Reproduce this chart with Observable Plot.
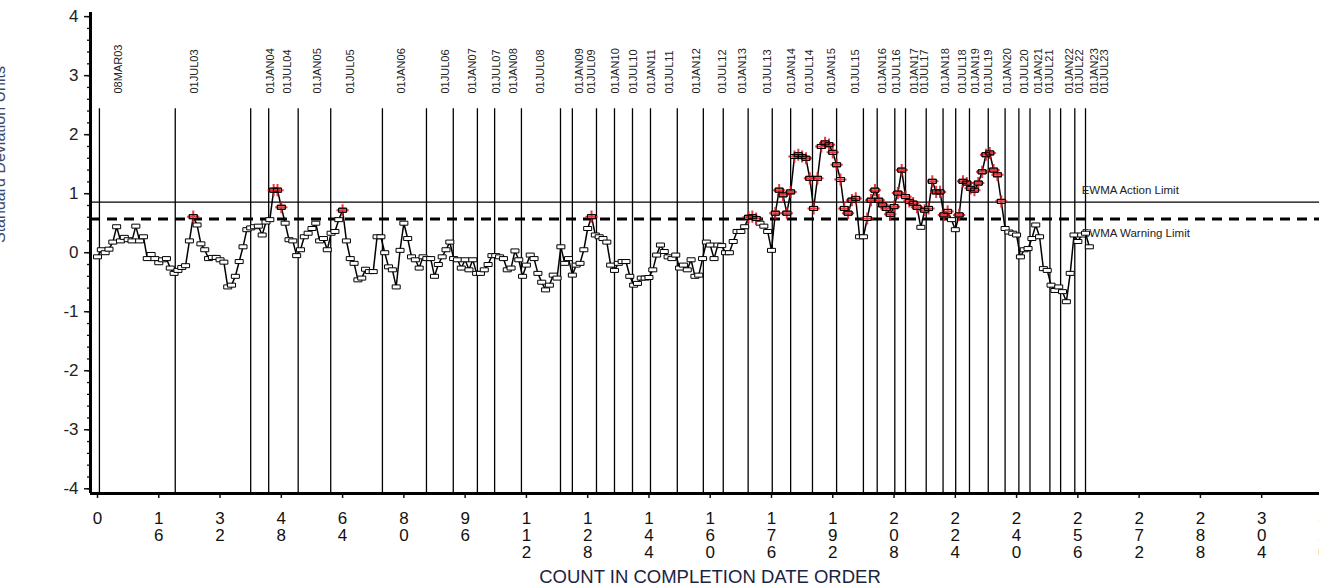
<!DOCTYPE html>
<html>
<head>
<meta charset="utf-8">
<script src="https://cdn.jsdelivr.net/npm/d3@7"></script>
<script src="https://cdn.jsdelivr.net/npm/@observablehq/plot@0.6"></script>
<style>
  html, body { margin: 0; padding: 0; background: #fff; overflow: hidden; }
  #chart svg { display: block; }
</style>
</head>
<body>
<div id="chart"></div>
<script>
// EWMA of the standardized results, one value per completed item (count order)
const ewma = [
  -0.07, 0.05, 0.0, 0.06, 0.18, 0.44, 0.2, 0.26, 0.22, 0.2,
  0.45, 0.2, 0.27, -0.1, -0.03, -0.1, -0.17, -0.12, -0.1, -0.26,
  -0.35, -0.3, -0.25, -0.22, 0.2, 0.61, 0.47, 0.15, 0.05, -0.1,
  -0.08, -0.08, -0.12, -0.16, -0.58, -0.55, -0.4, -0.15, 0.1, 0.39,
  0.42, 0.44, 0.45, 0.3, 0.52, 0.56, 1.06, 1.06, 0.77, 0.5,
  0.22, 0.2, -0.05, 0.05, 0.27, 0.33, 0.41, 0.5, 0.2, 0.24,
  0.05, 0.33, 0.36, 0.56, 0.72, 0.2, -0.1, -0.18, -0.46, -0.43,
  -0.28, -0.32, -0.32, 0.27, 0.27, 0.0, -0.24, -0.29, -0.58, 0.04,
  0.5, 0.24, -0.07, -0.12, -0.26, -0.07, -0.1, -0.1, -0.4, -0.2,
  -0.07, 0.05, 0.18, -0.1, -0.12, -0.26, -0.12, -0.29, -0.12, -0.35,
  -0.35, -0.29, -0.2, -0.05, -0.05, -0.07, -0.1, -0.29, -0.26, 0.03,
  -0.12, -0.4, -0.21, -0.04, -0.1, -0.35, -0.5, -0.63, -0.55, -0.38,
  -0.43, 0.1, -0.18, -0.1, -0.38, -0.21, -0.18, 0.05, 0.41, 0.61,
  0.3, 0.27, 0.24, 0.18, -0.21, -0.3, -0.18, -0.15, -0.15, -0.4,
  -0.55, -0.52, -0.43, -0.43, -0.42, -0.29, -0.04, 0.13, 0.02, -0.07,
  -0.1, -0.04, -0.26, -0.21, -0.29, -0.12, -0.4, -0.38, -0.1, 0.18,
  0.13, -0.1, 0.13, 0.12, 0.0, 0.0, 0.19, 0.36, 0.36, 0.44,
  0.6, 0.61, 0.58, 0.5, 0.45, 0.36, 0.04, 0.67, 1.06, 0.98,
  0.67, 1.03, 1.63, 1.66, 1.63, 1.6, 1.26, 0.75, 1.26, 1.8,
  1.86, 1.83, 1.7, 1.49, 1.24, 0.75, 0.67, 0.89, 0.92, 0.27,
  0.27, 0.58, 0.89, 1.06, 0.89, 0.81, 0.75, 0.65, 0.78, 1.01,
  1.4, 0.95, 0.87, 0.84, 0.77, 0.43, 0.72, 0.75, 1.21, 1.03,
  1.03, 0.64, 0.7, 0.56, 0.39, 0.64, 1.21, 1.18, 1.09, 1.06,
  1.18, 1.37, 1.66, 1.69, 1.4, 1.32, 0.87, 0.41, 0.35, 0.33,
  0.3, -0.07, 0.05, 0.07, 0.24, 0.47, 0.27, -0.27, -0.3, -0.55,
  -0.64, -0.58, -0.66, -0.83, -0.35, 0.3, 0.19, 0.3, 0.33, 0.1
];

// Calendar markers and the count position where each period starts
const markerLabels = [
  "08MAR03", "01JUL03", "01JAN04", "01JUL04", "01JAN05", "01JUL05", "01JAN06",
  "01JUL06", "01JAN07", "01JUL07", "01JAN08", "01JUL08", "01JAN09", "01JUL09",
  "01JAN10", "01JUL10", "01JAN11", "01JUL11", "01JAN12", "01JUL12", "01JAN13",
  "01JUL13", "01JAN14", "01JUL14", "01JAN15", "01JUL15", "01JAN16", "01JUL16",
  "01JAN17", "01JUL17", "01JAN18", "01JUL18", "01JAN19", "01JUL19", "01JAN20",
  "01JUL20", "01JAN21", "01JUL21", "01JAN22", "01JUL22", "01JAN23", "01JUL23"
];
const markerCounts = [
  0.5, 20.3, 40.0, 44.7, 52.4, 60.9, 74.4,
  85.9, 92.9, 99.2, 103.7, 110.7, 120.9, 124.0,
  130.3, 135.0, 139.7, 144.4, 151.4, 158.2, 163.4,
  169.9, 176.2, 181.0, 186.7, 193.0, 200.0, 203.6,
  208.2, 211.0, 216.4, 220.8, 224.1, 227.7, 232.6,
  237.0, 240.6, 243.5, 248.7, 251.5, 255.2, 258.0
];

// EWMA limits (standard deviation units)
const actionLimit = 0.856;
const warningLimit = 0.57;
const limitLabels = ["EWMA Action Limit", "EWMA Warning Limit"];

// Axis ticks
const xTicks = d3.range(0, 321, 16);
const yTicks = d3.range(-4, 5, 1);
const yMinorTicks = d3.range(-40, 41, 2).map(d => d / 10);

// Layout constants
const X_DOMAIN = [-1.83, 319.1];
const Y_DOMAIN = [-4.08, 4.07];
const MARKER_TOP = 2.44;      // upper end of the calendar marker lines
const LIMIT_LABEL_AT = 257;   // count where the limit captions start

const points = ewma.map((value, count) => ({count, value, alarm: value > warningLimit}));
const alarms = points.filter(d => d.alarm);
const markers = markerLabels.map((label, i) => ({label, count: markerCounts[i]}));

// flat rectangle used as the point symbol
const flatBox = {
  draw(context) {
    const w = 4, h = 2;
    context.moveTo(-w, -h);
    context.lineTo(w, -h);
    context.lineTo(w, h);
    context.lineTo(-w, h);
    context.closePath();
  }
};

const font = '"Liberation Sans", Arial, Helvetica, sans-serif';

const chart = Plot.plot({
  width: 1319,
  height: 584,
  marginLeft: 90,
  marginRight: 0,
  marginTop: 12,
  marginBottom: 91,
  style: {fontFamily: font, background: "#fff", color: "#111", overflow: "hidden"},
  x: {domain: X_DOMAIN},
  y: {domain: Y_DOMAIN},
  marks: [
    // calendar markers
    Plot.ruleX(markers, {x: "count", y1: MARKER_TOP, y2: Y_DOMAIN[0], stroke: "#000", strokeWidth: 1.3}),
    Plot.text(markers, {
      x: "count", text: "label", frameAnchor: "top", dy: 81, dx: 15,
      rotate: -90, textAnchor: "start", fontSize: 11, fill: "#222"
    }),

    // limits
    Plot.ruleY([actionLimit], {stroke: "#000", strokeWidth: 1.3}),
    Plot.ruleY([warningLimit], {stroke: "#000", strokeWidth: 3, strokeDasharray: "10,7"}),
    Plot.text([limitLabels[0]], {x: LIMIT_LABEL_AT, y: actionLimit, dy: -12, textAnchor: "start", fontSize: 11.5, fill: "#222"}),
    Plot.text([limitLabels[1]], {x: LIMIT_LABEL_AT, y: warningLimit, dy: 14, textAnchor: "start", fontSize: 11.5, fill: "#222"}),

    // EWMA series
    Plot.line(points, {x: "count", y: "value", stroke: "#000", strokeWidth: 1.5}),
    Plot.dot(points, {x: "count", y: "value", symbol: flatBox, fill: "#fff", stroke: "#000", strokeWidth: 1}),
    Plot.dot(alarms, {x: "count", y: "value", symbol: "plus", r: 4, stroke: "#e3161d", strokeWidth: 2, strokeOpacity: 0.85}),
    Plot.dot(alarms, {x: "count", y: "value", symbol: flatBox, fill: "none", stroke: "#000", strokeWidth: 1}),

    // axes
    Plot.axisY(yMinorTicks, {tickSize: 3, tickFormat: () => "", strokeWidth: 1.3, label: null}),
    Plot.axisY(yTicks, {
      tickSize: 6, tickPadding: 6, fontSize: 17, strokeWidth: 1.5, label: null, fill: "#222",
      tickFormat: d => String(d)
    }),
    Plot.axisX(xTicks, {
      tickSize: 5, tickPadding: 13, fontSize: 17, lineHeight: 1, strokeWidth: 1.5,
      label: null, fill: "#111", tickFormat: d => String(d).split("").join("\n")
    }),
    Plot.ruleX([X_DOMAIN[0]], {stroke: "#000", strokeWidth: 3}),
    Plot.ruleY([Y_DOMAIN[0]], {stroke: "#000", strokeWidth: 3}),

    // axis titles
    Plot.text(["Standard Deviation Units"], {
      frameAnchor: "left", dx: -91, dy: -10, rotate: -90, fontSize: 16, fill: "#3b4a6b"
    }),
    Plot.text(["COUNT IN COMPLETION DATE ORDER"], {
      frameAnchor: "bottom", dy: 89, dx: 5, fontSize: 18.5, fill: "#1b2440"
    })
  ]
});

document.getElementById("chart").append(chart);
</script>
</body>
</html>
